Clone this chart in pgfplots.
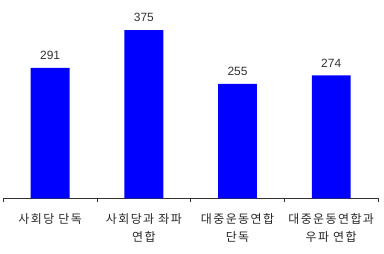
\documentclass[border=0pt]{standalone}
\usepackage{fontspec}
\setmainfont{Liberation Sans}
\newfontfamily\kr[LetterSpace=12]{Noto Sans CJK KR}
\usepackage{pgfplots}
\pgfplotsset{compat=1.18}
\begin{document}
\begin{tikzpicture}[x=1pt,y=1pt]
\begin{axis}[
  at={(2pt,55pt)}, anchor=south west,
  scale only axis, width=376pt, height=198pt,
  xmin=-0.5, xmax=3.5, ymin=0, ymax=440,
  axis x line*=bottom, axis y line=none,
  axis line style={draw=black!80, line width=0.8pt},
  ybar, bar width=39pt,
  xtick={0,1,2,3}, major tick length=0pt,
  xticklabels={{사회당 단독},{사회당과 좌파\\연합},{대중운동연합\\단독},{대중운동연합과\\우파 연합}},
  xticklabel style={font=\kr\fontsize{12}{18}\selectfont, align=center, anchor=north, yshift=-12pt, text=black!85},
  extra x ticks={-0.5,0.5,1.5,2.5,3.5}, extra x tick labels={},
  extra x tick style={major tick length=4pt, tick align=outside, tick style={draw=black!80, line width=0.8pt}},
  /pgf/number format/assume math mode=true,
  nodes near coords,
  every node near coord/.append style={font=\fontsize{12}{14}\selectfont, anchor=south, inner sep=0pt, yshift=8pt, text=black!80},
  clip=false,
]
\addplot[fill={rgb,255:red,0;green,0;blue,255}, draw=none] coordinates {(0,291) (1,375) (2,255) (3,274)};
\end{axis}
\path[use as bounding box] (0,0) rectangle (384pt,254pt);
\end{tikzpicture}
\end{document}
